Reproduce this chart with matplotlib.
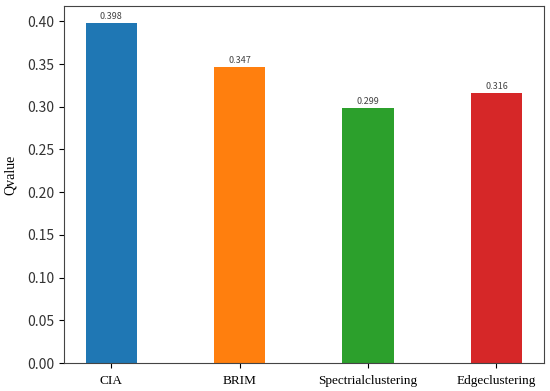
import numpy as np
import matplotlib.pyplot as plt

methods = ["CIA", "BRIM", "Spectrialclustering", "Edgeclustering"]
q_values = [0.398, 0.347, 0.299, 0.316]
bar_colors = ["#1f77b4", "#ff7f0e", "#2ca02c", "#d62728"]

cjk = ["Noto Sans CJK SC", "DejaVu Sans"]
serif = ["Liberation Serif", "DejaVu Serif"]

fig = plt.figure(figsize=(5.5, 3.91), dpi=100)
ax = fig.add_axes([0.116, 0.0716, 0.873, 0.913])

x = np.arange(len(methods))
bars = ax.bar(x, q_values, width=0.4, color=bar_colors)

for xi, v in zip(x, q_values):
    ax.text(xi, v + 0.002, f"{v:.3f}", ha="center", va="bottom",
            fontsize=6.5, family=cjk, color="#444444")

ax.set_xticks(x)
ax.set_xticklabels(methods, family=serif, fontsize=9.5)
ax.tick_params(axis="x", pad=5)
ax.set_yticks(np.arange(0, 0.41, 0.05))
ax.set_yticklabels([f"{t:.2f}" for t in np.arange(0, 0.41, 0.05)],
                   family=cjk, fontsize=10, color="#333333")
ax.set_ylabel("Qvalue", family=serif, fontsize=10)
ax.yaxis.set_label_coords(-0.097, 0.527)

for s in ax.spines.values():
    s.set_color("#444444")

fig.savefig("out.png", dpi=100)
